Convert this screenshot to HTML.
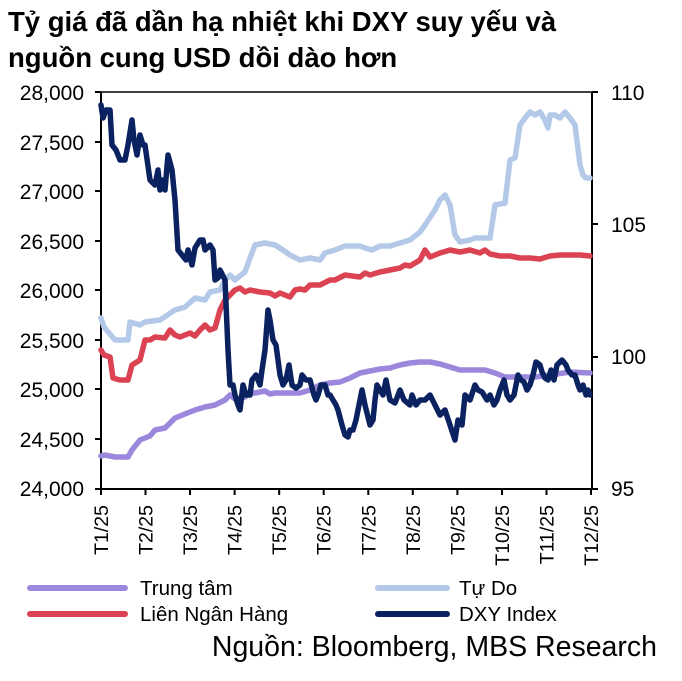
<!DOCTYPE html>
<html><head><meta charset="utf-8"><style>
body{margin:0;background:#fff;width:682px;height:676px;overflow:hidden;font-family:"Liberation Sans",sans-serif;}
</style></head><body>
<svg width="682" height="676" xmlns="http://www.w3.org/2000/svg" font-family="Liberation Sans, sans-serif">
<text x="8" y="31" font-size="27.5" font-weight="bold">Tỷ giá đã dần hạ nhiệt khi DXY suy yếu và</text>
<text x="8" y="67" font-size="27.5" font-weight="bold">nguồn cung USD dồi dào hơn</text>
<g font-size="21" text-anchor="end">
<text x="84" y="100">28,000</text><text x="84" y="150">27,500</text><text x="84" y="199">27,000</text><text x="84" y="249">26,500</text><text x="84" y="298">26,000</text><text x="84" y="348">25,500</text><text x="84" y="397">25,000</text><text x="84" y="447">24,500</text><text x="84" y="496">24,000</text>
</g>
<g font-size="21">
<text x="611" y="100">110</text><text x="611" y="232">105</text><text x="611" y="364">100</text><text x="611" y="496">95</text>
</g>
<g stroke="#000" stroke-width="2" fill="none">
<line x1="101" y1="92" x2="592" y2="92" stroke-width="1.5"/>
<line x1="101" y1="92" x2="101" y2="489"/>
<line x1="592" y1="92" x2="592" y2="489"/>
<line x1="101" y1="489" x2="592" y2="489"/>
<path d="M95 92h6M95 142h6M95 191h6M95 241h6M95 290h6M95 340h6M95 389h6M95 439h6M95 489h6M592 92h6M592 224h6M592 357h6M592 489h6"/>
<path d="M101 489v6M145.5 489v6M190 489v6M234.6 489v6M279.2 489v6M323.7 489v6M368.3 489v6M412.8 489v6M457.4 489v6M502 489v6M546.5 489v6M591 489v6"/>
</g>
<g font-size="19.5" text-anchor="end">
<text transform="translate(108,505) rotate(-90)">T1/25</text>
<text transform="translate(152.5,505) rotate(-90)">T2/25</text>
<text transform="translate(197,505) rotate(-90)">T3/25</text>
<text transform="translate(241.6,505) rotate(-90)">T4/25</text>
<text transform="translate(286.2,505) rotate(-90)">T5/25</text>
<text transform="translate(330.7,505) rotate(-90)">T6/25</text>
<text transform="translate(375.3,505) rotate(-90)">T7/25</text>
<text transform="translate(419.8,505) rotate(-90)">T8/25</text>
<text transform="translate(464.4,505) rotate(-90)">T9/25</text>
<text transform="translate(509,505) rotate(-90)">T10/25</text>
<text transform="translate(553.5,505) rotate(-90)">T11/25</text>
<text transform="translate(598,505) rotate(-90)">T12/25</text>
</g>
<g fill="none" stroke-width="5.5" stroke-linejoin="round" stroke-linecap="round">
<polyline stroke="#b4c9e8" points="101,318 104,327 115,340 128,340 130,322 140,325 145,322 160,320 175,310 185,307 195,298 205,300 210,292 220,290 225,280 230,275 235,280 245,272 250,258 255,245 265,243 275,245 283,250 290,255 300,260 310,258 320,260 325,253 335,250 345,246 360,246 365,248 372,250 380,246 390,246 400,243 410,240 415,236 420,232 425,225 435,210 440,200 445,195 450,205 455,235 460,242 470,240 475,238 490,238 495,205 505,203 510,160 515,158 520,125 525,118 530,112 535,115 540,112 545,120 548,128 550,115 555,115 560,118 565,112 570,118 575,125 580,165 583,175 586,178 590,178"/>
<polyline stroke="#dc4352" points="101,350 104,355 110,357 113,378 120,380 128,380 132,365 140,360 145,340 150,340 155,337 165,338 170,330 175,335 180,337 190,333 195,336 200,330 205,325 210,330 215,328 220,310 225,300 230,295 235,290 240,288 245,292 250,290 260,292 270,293 275,296 280,293 290,297 295,290 300,289 305,290 310,285 320,285 330,280 335,280 345,275 352,276 360,277 365,273 370,275 380,272 390,270 400,268 405,265 410,266 420,260 425,250 430,257 440,253 450,250 460,252 470,250 480,253 485,250 490,254 500,256 510,256 520,258 530,258 540,259 550,256 560,255 570,255 580,255 590,256"/>
<polyline stroke="#9b88dc" points="101,456 105,455 115,457 128,457 132,450 140,440 150,436 155,430 165,428 175,418 185,414 195,410 205,407 215,405 225,400 230,395 235,399 245,397 250,393 255,393 265,391 270,394 275,393 290,393 300,393 310,390 320,385 330,383 340,382 350,378 360,373 370,371 380,369 390,368 400,365 410,363 420,362 430,362 440,364 450,367 460,370 475,370 485,370 495,373 505,377 520,377 535,377 550,375 570,372 590,373"/>
<polyline stroke="#0b2260" points="101,105 103,118 106,110 110,110 112,145 116,150 120,160 125,160 128,145 132,120 134,140 137,155 140,135 143,145 145,145 150,180 155,185 158,170 160,190 162,180 165,190 168,155 172,170 175,200 178,250 182,255 186,260 188,250 192,265 195,248 200,240 203,240 205,250 210,245 213,250 215,280 218,278 220,270 225,280 228,350 230,385 233,385 235,395 238,405 240,410 243,385 246,395 250,395 252,380 256,375 260,385 262,370 265,350 268,310 270,320 273,340 276,345 280,375 283,385 286,380 289,365 292,385 296,388 300,385 302,375 306,380 310,380 314,395 316,400 318,395 321,385 325,385 328,395 330,395 333,400 336,405 338,410 342,425 345,435 348,437 350,430 353,430 356,420 360,400 362,390 365,405 370,425 373,420 375,400 377,385 380,390 383,395 386,380 390,400 395,403 400,390 404,400 410,405 412,395 416,405 420,400 425,400 430,395 435,405 440,415 445,410 450,425 455,440 458,420 462,425 465,395 470,400 475,385 478,390 482,392 487,400 490,395 494,405 497,400 500,390 504,380 507,395 510,400 514,395 518,375 521,380 524,382 527,390 530,385 533,375 536,362 540,365 542,372 545,378 548,380 551,370 554,380 557,365 562,360 566,365 568,370 572,375 575,375 578,385 580,390 583,385 586,395 588,390 590,395"/>
</g>
<g stroke-width="6" stroke-linecap="round">
<line x1="30" y1="588" x2="125" y2="588" stroke="#9b88dc"/>
<line x1="30" y1="614" x2="125" y2="614" stroke="#dc4352"/>
<line x1="378" y1="588" x2="447" y2="588" stroke="#b4c9e8"/>
<line x1="378" y1="614" x2="447" y2="614" stroke="#0b2260"/>
</g>
<g font-size="20.5">
<text x="140" y="595">Trung tâm</text>
<text x="140" y="621">Liên Ngân Hàng</text>
<text x="459" y="595">Tự Do</text>
<text x="459" y="621">DXY Index</text>
</g>
<text x="657" y="656" font-size="28.5" text-anchor="end">Nguồn: Bloomberg, MBS Research</text>
</svg>
</body></html>
